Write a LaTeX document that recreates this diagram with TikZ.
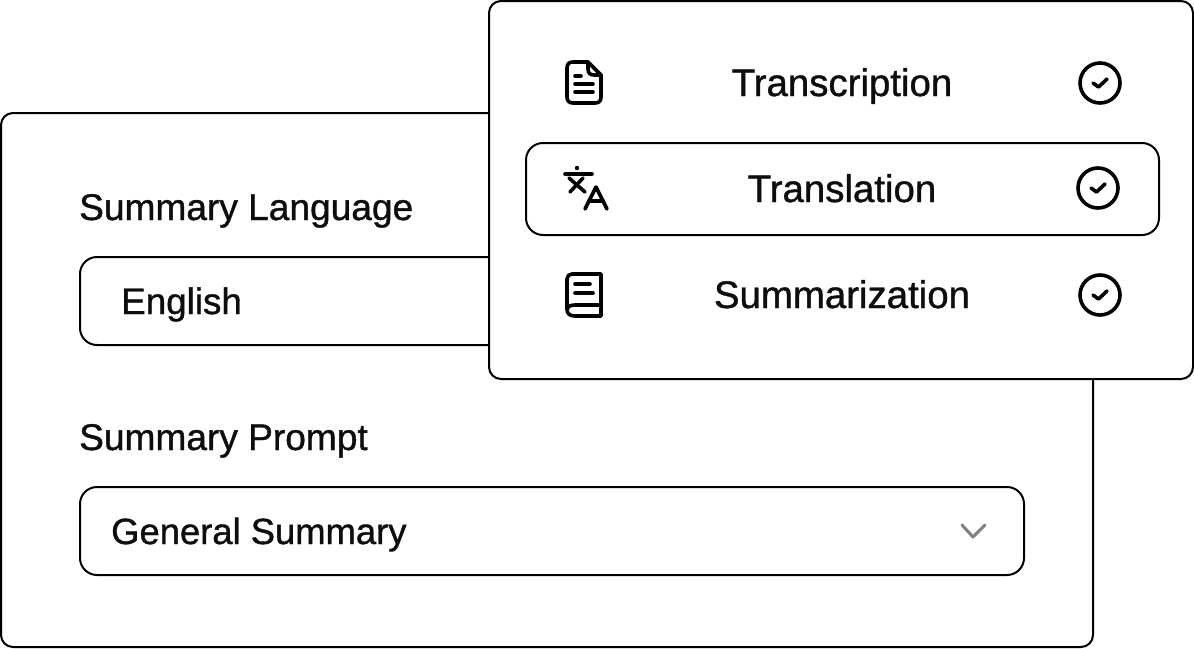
\documentclass[tikz,border=0pt]{standalone}
\usepackage{fontspec}
\setmainfont{Liberation Sans}
\newfontfamily\labelfont[FakeBold=1.0]{Liberation Sans}
\usetikzlibrary{positioning}
\tikzset{
    panel/.style={draw=black,line width=2pt,fill=white,rounded corners=12pt,inner sep=0pt,anchor=north west},
    field/.style={draw=black,line width=2pt,fill=white,rounded corners=17pt,inner sep=0pt,anchor=north west},
    label/.style={font=\labelfont\fontsize{37.1}{37}\selectfont,text=black!95,inner sep=0pt,anchor=base west},
    menulabel/.style={label,font=\labelfont\fontsize{38.4}{39}\selectfont,anchor=base},
    icon/.style={line width=3.6pt,line cap=round,line join=round},
}
\begin{document}
\begin{tikzpicture}[x=1pt,y=-1pt]
    \useasboundingbox (0,0) rectangle (1194,648);

    % back card
    \node[panel,minimum width=1092pt,minimum height=534pt] (back) at (0,112) {};
    \node[label] (langlabel) at (79,220) {Summary Language};
    \node[field,minimum width=500pt,minimum height=88pt] (langbox) at (79,256) {};
    \node[label,font=\labelfont\fontsize{36.8}{37}\selectfont] (langvalue) at (121,314) {English};
    \node[label] (promptlabel) at (79,450) {Summary Prompt};
    \node[field,minimum width=944pt,minimum height=88pt] (promptbox) at (79,486) {};
    \node[label,font=\labelfont\fontsize{36.4}{37}\selectfont] (promptvalue) at (111,544) {General Summary};
    \draw[line width=3pt,gray,line join=round,line cap=round] (962,525) -- (973,537) -- (985,525);

    % front card
    \node[panel,minimum width=704pt,minimum height=378pt] (front) at (488,0) {};
    \node[field,minimum width=633pt,minimum height=92pt] (selected) at (525,142) {};
    \node[menulabel] (transcription) at (842,96) {Transcription};
    \node[menulabel] (translation) at (842,202) {Translation};
    \node[menulabel] (summarization) at (842,308) {Summarization};

    % check marks
    \foreach \x/\y in {1100/83,1098/188,1100/295}{
        \draw[icon] (\x,\y) circle (20pt);
        \draw[icon] (\x-7,\y) -- (\x-1.5,\y+4) -- (\x+7,\y-4);
    }

    % document icon
    \draw[icon] (588,62) -- (573,62) .. controls (569,62) and (567,64) .. (567,68) -- (567,97)
        .. controls (567,101) and (569,103) .. (573,103) -- (595,103)
        .. controls (599,103) and (601,101) .. (601,97) -- (601,75) -- cycle;
    \draw[icon] (588,62) -- (588,69) .. controls (588,73) and (590,75) .. (594,75) -- (601,75);
    \draw[icon] (575,76) -- (581,76);
    \draw[icon] (575,84) -- (593,84);
    \draw[icon] (575,92) -- (593,92);

    % translate icon
    \draw[icon] (565,174) -- (592,174);
    \fill (577,168) circle (2.2pt);
    \draw[icon] (569,178) -- (585,192);
    \draw[icon] (583,178) -- (570,192);
    \draw[icon] (585,209) -- (596,187) -- (607,209);
    \draw[icon] (589,201) -- (603,201);

    % book icon
    \draw[icon] (572,274) -- (601,274) -- (601,316) -- (575,316) .. controls (570,316) and (567,314) .. (567,309)
        -- (567,279) .. controls (567,276) and (569,274) .. (572,274);
    \draw[icon] (601,305) -- (575,305) .. controls (570,305) and (567,307) .. (567,310);
    \draw[icon] (575,284) -- (590,284);
    \draw[icon] (575,293) -- (593,293);
\end{tikzpicture}
\end{document}
